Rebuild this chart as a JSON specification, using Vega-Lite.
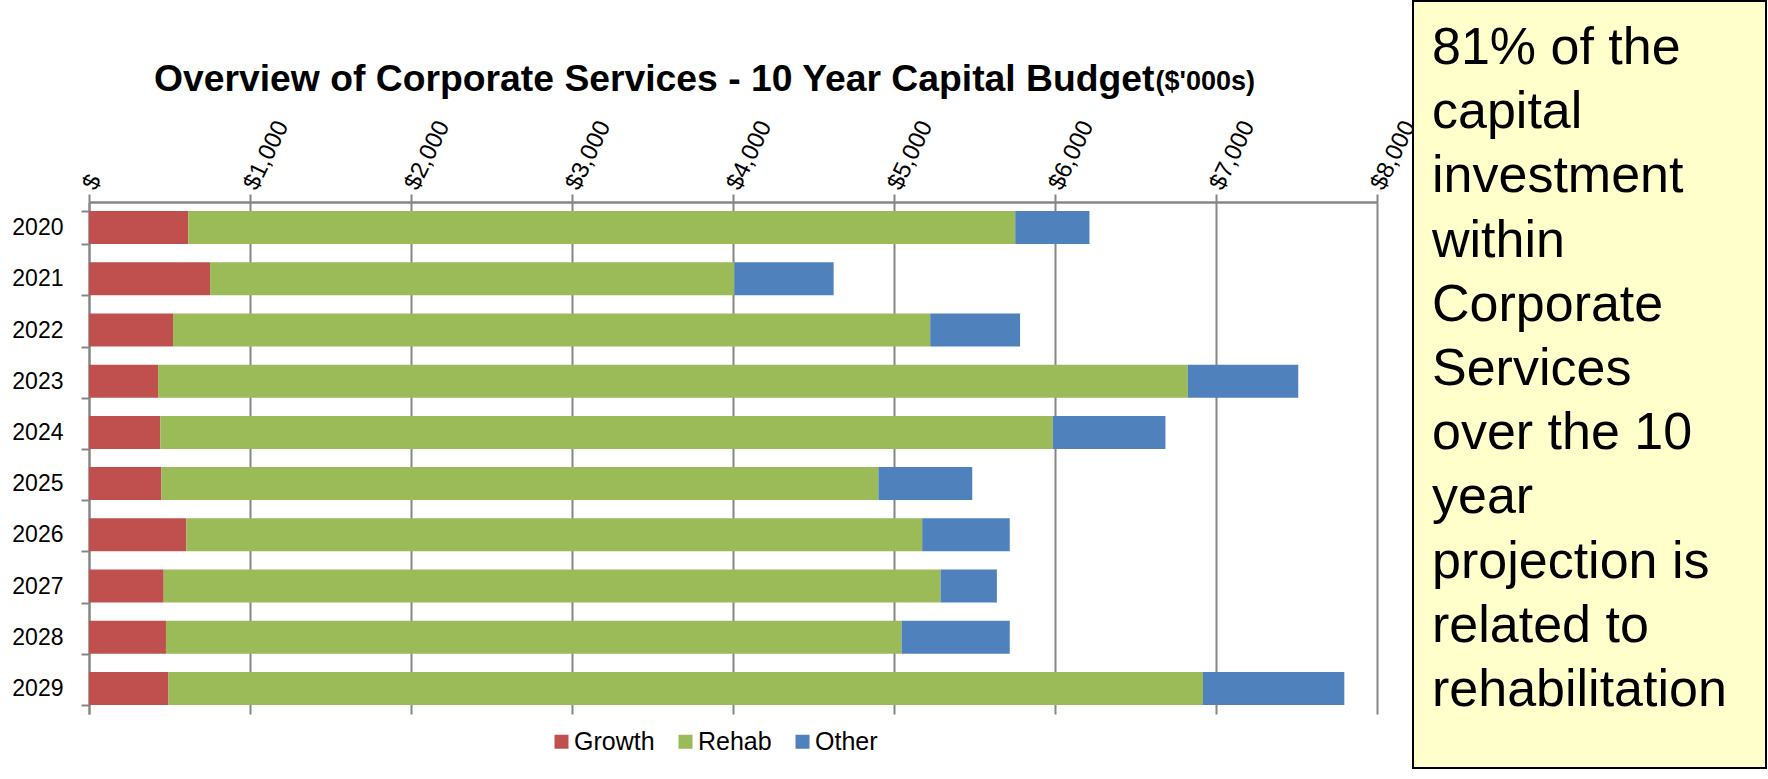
{
  "$schema": "https://vega.github.io/schema/vega-lite/v6.json",
  "padding": {"left": 11, "top": 0, "right": 0, "bottom": 0},
  "background": "white",
  "config": {"font": "Liberation Sans"},
  "datasets": {
    "budget": [
      {"Year": "2020", "Growth": 617, "Rehab": 5136, "Other": 461},
      {"Year": "2021", "Growth": 752, "Rehab": 3256, "Other": 617},
      {"Year": "2022", "Growth": 522, "Rehab": 4703, "Other": 558},
      {"Year": "2023", "Growth": 429, "Rehab": 6396, "Other": 686},
      {"Year": "2024", "Growth": 443, "Rehab": 5543, "Other": 700},
      {"Year": "2025", "Growth": 450, "Rehab": 4453, "Other": 583},
      {"Year": "2026", "Growth": 605, "Rehab": 4570, "Other": 544},
      {"Year": "2027", "Growth": 464, "Rehab": 4825, "Other": 350},
      {"Year": "2028", "Growth": 478, "Rehab": 4569, "Other": 672},
      {"Year": "2029", "Growth": 494, "Rehab": 6425, "Other": 878}
    ],
    "note": [
      {"text": "81% of the"},
      {"text": "capital"},
      {"text": "investment"},
      {"text": "within"},
      {"text": "Corporate"},
      {"text": "Services"},
      {"text": "over the 10"},
      {"text": "year"},
      {"text": "projection is"},
      {"text": "related to"},
      {"text": "rehabilitation"}
    ],
    "empty": []
  },
  "hconcat": [
    {
      "vconcat": [
        {
          "width": 1288,
          "height": 1,
          "data": {"name": "empty"},
          "view": {"stroke": null},
          "mark": {"type": "point", "opacity": 0},
          "encoding": {}
        },
        {
          "width": 1288,
          "height": 512,
          "data": {"name": "budget"},
          "transform": [
            {"fold": ["Growth", "Rehab", "Other"], "as": ["Category", "Amount"]},
            {"calculate": "indexof(['Growth', 'Rehab', 'Other'], datum.Category)", "as": "StackOrder"}
          ],
          "title": {
            "text": "Overview of Corporate Services - 10 Year Capital Budget",
            "anchor": "start",
            "frame": "group",
            "dx": 65,
            "fontSize": 37.3,
            "fontWeight": "bold",
            "font": "Liberation Sans",
            "color": "#000000",
            "offset": -32
          },
          "view": {"stroke": null},
          "mark": {"type": "bar"},
          "encoding": {
            "y": {
              "field": "Year",
              "type": "ordinal",
              "scale": {"paddingInner": 0.355, "paddingOuter": 0.1775},
              "axis": {
                "title": "($'000s)",
                "titleAngle": 0,
                "titleX": 1066,
                "titleY": -113,
                "titleAlign": "left",
                "titleBaseline": "alphabetic",
                "titleFontSize": 27,
                "titleFontWeight": "bold",
                "titleColor": "#000000",
                "labelFontSize": 23,
                "labelColor": "#000000",
                "tickBand": "extent",
                "tickSize": 8,
                "tickColor": "#868686",
                "tickWidth": 2,
                "domainColor": "#868686",
                "domainWidth": 2,
                "labelPadding": 18,
                "grid": false
              }
            },
            "x": {
              "field": "Amount",
              "type": "quantitative",
              "stack": "zero",
              "scale": {"domain": [0, 8000], "nice": false},
              "axis": {
                "orient": "top",
                "title": null,
                "values": [0, 1000, 2000, 3000, 4000, 5000, 6000, 7000, 8000],
                "labelExpr": "datum.value == 0 ? '$' : '$' + format(datum.value, ',')",
                "labelAngle": -64,
                "labelAlign": "left",
                "labelBaseline": "middle",
                "labelFontSize": 24,
                "labelColor": "#000000",
                "labelPadding": 6,
                "labelFlush": false,
                "labelOverlap": false,
                "labelBound": false,
                "tickSize": 8,
                "tickColor": "#868686",
                "tickWidth": 2,
                "domainColor": "#868686",
                "domainWidth": 2.5,
                "grid": true,
                "gridColor": "#868686",
                "gridWidth": 2,
                "gridOpacity": 1
              }
            },
            "order": {"field": "StackOrder", "type": "quantitative"},
            "color": {
              "field": "Category",
              "type": "nominal",
              "sort": ["Growth", "Rehab", "Other"],
              "scale": {"domain": ["Growth", "Rehab", "Other"], "range": ["#C0504D", "#9BBB59", "#4F81BD"]},
              "legend": {
                "orient": "none",
                "legendX": 460,
                "legendY": 527,
                "direction": "horizontal",
                "title": null,
                "symbolType": "square",
                "symbolSize": 196,
                "symbolStrokeWidth": 0,
                "symbolOpacity": 1,
                "labelFontSize": 25,
                "labelColor": "#000000",
                "columnPadding": 18,
                "labelOffset": 0
              }
            }
          }
        }
      ],
      "spacing": 58,
      "resolve": {"legend": {"color": "independent"}}
    },
    {
      "width": 353,
      "height": 767,
      "data": {"name": "note"},
      "view": {"fill": "#FFFFCC", "stroke": "#000000", "strokeWidth": 2},
      "mark": {"type": "text", "align": "left", "baseline": "middle", "fontSize": 52, "font": "Liberation Sans", "color": "#000000", "dx": 19},
      "encoding": {
        "y": {"field": "text", "type": "ordinal", "sort": null, "scale": {"type": "point", "padding": 0.975, "align": 0.376}, "axis": null},
        "x": {"datum": 0, "type": "quantitative", "scale": {"domain": [0, 1]}, "axis": null},
        "text": {"field": "text"}
      }
    }
  ],
  "resolve": {"legend": {"color": "independent"}},
  "bounds": "flush",
  "spacing": 1324
}
